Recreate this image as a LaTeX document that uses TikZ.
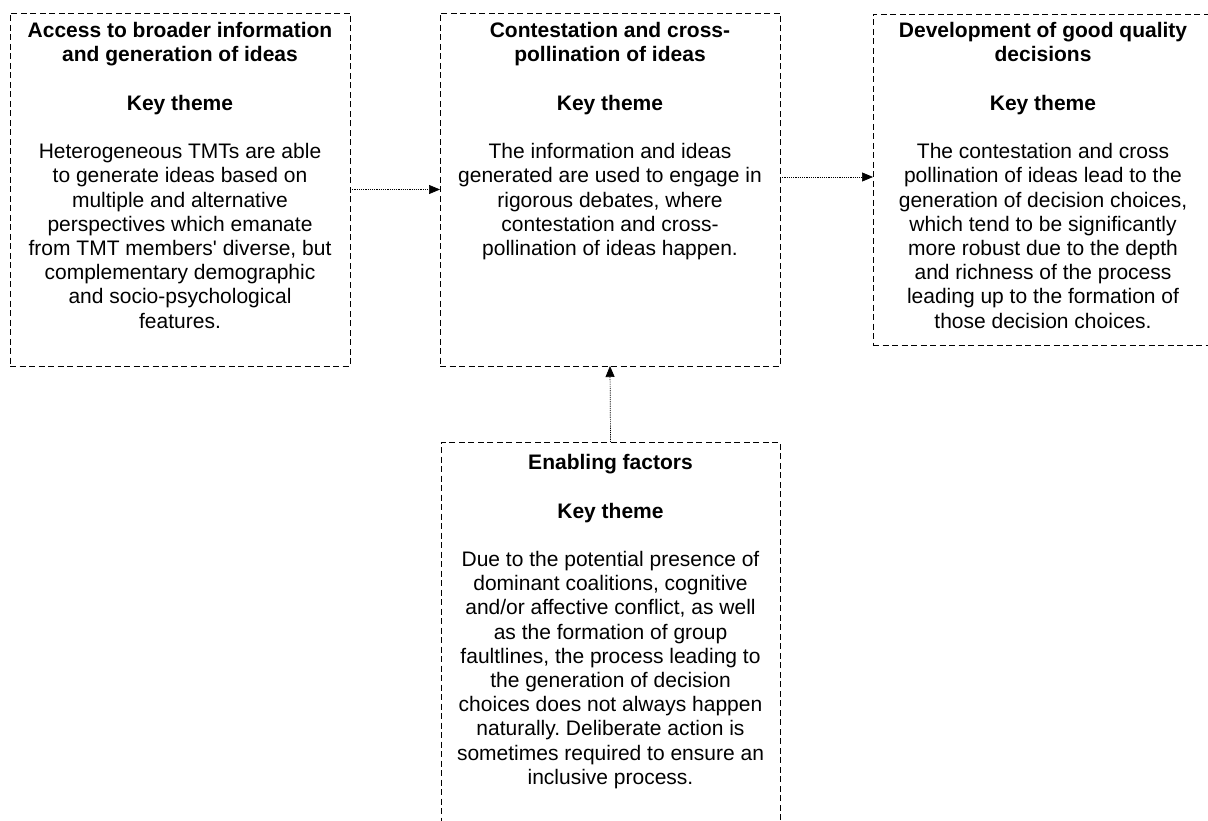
\documentclass[tikz,border=0pt]{standalone}
\usepackage{fontspec}
\setmainfont{Liberation Sans}
\usetikzlibrary{arrows.meta}
\frenchspacing

\tikzset{
  panel/.style={draw, line width=0.95pt, dash pattern=on 6pt off 3.5pt,
    inner sep=0pt, outer sep=0pt},
  panetext/.style={anchor=north, align=center, inner sep=0pt,
    font=\fontsize{21}{24.2}\selectfont},
  link/.style={line width=0.7pt, dash pattern=on 1.2pt off 1pt,
    -{Triangle[length=11pt,width=9pt]}}
}
% first-line strut: fixes the distance from the node top to the first baseline
\newcommand{\firstline}{\rule{0pt}{17pt}}

\begin{document}
\begin{tikzpicture}[x=1pt,y=-1pt]
  \useasboundingbox (0,0) rectangle (1208,821);
  \clip (0,0) rectangle (1208,821);

  % outer frames of the four panels
  \node[panel, minimum width=340pt, minimum height=353pt] (b1) at (180,189.5) {};
  \node[panel, minimum width=340pt, minimum height=353pt] (b2) at (610,189.5) {};
  \node[panel, minimum width=340pt, minimum height=331pt] (b3) at (1043,179.5) {};
  \node[panel, minimum width=339pt, minimum height=400pt] (b4) at (610.5,642) {};

  % panel contents
  \node[panetext] (t1) at (180,20.5) {%
    \firstline\textbf{Access to broader information}\\
    \textbf{and generation of ideas}\\[24.2pt]
    \textbf{Key theme}\\[24.2pt]
    Heterogeneous TMTs are able\\
    to generate ideas based on\\
    multiple and alternative\\
    perspectives which emanate\\
    from TMT members\textquotesingle\ diverse, but\\
    complementary demographic\\
    and socio-psychological\\
    features.};

  \node[panetext] (t2) at (610,20.5) {%
    \firstline\textbf{Contestation and cross-}\\
    \textbf{pollination of ideas}\\[24.2pt]
    \textbf{Key theme}\\[24.2pt]
    The information and ideas\\
    generated are used to engage in\\
    rigorous debates, where\\
    contestation and cross-\\
    pollination of ideas happen.};

  \node[panetext] (t3) at (1043,20.5) {%
    \firstline\textbf{Development of good quality}\\
    \textbf{decisions}\\[24.2pt]
    \textbf{Key theme}\\[24.2pt]
    The contestation and cross\\
    pollination of ideas lead to the\\
    generation of decision choices,\\
    which tend to be significantly\\
    more robust due to the depth\\
    and richness of the process\\
    leading up to the formation of\\
    those decision choices.};

  \node[panetext] (t4) at (610.5,452.5) {%
    \firstline\textbf{Enabling factors}\\[24.2pt]
    \textbf{Key theme}\\[24.2pt]
    Due to the potential presence of\\
    dominant coalitions, cognitive\\
    and/or affective conflict, as well\\
    as the formation of group\\
    faultlines, the process leading to\\
    the generation of decision\\
    choices does not always happen\\
    naturally. Deliberate action is\\
    sometimes required to ensure an\\
    inclusive process.};

  % connectors between panels
  \draw[link] (b1.east) -- (b2.west);
  \draw[link] (b2.east |- 0,177) -- (b3.west |- 0,177);
  \draw[link] (b4.north) -- (b2.south);
\end{tikzpicture}
\end{document}
